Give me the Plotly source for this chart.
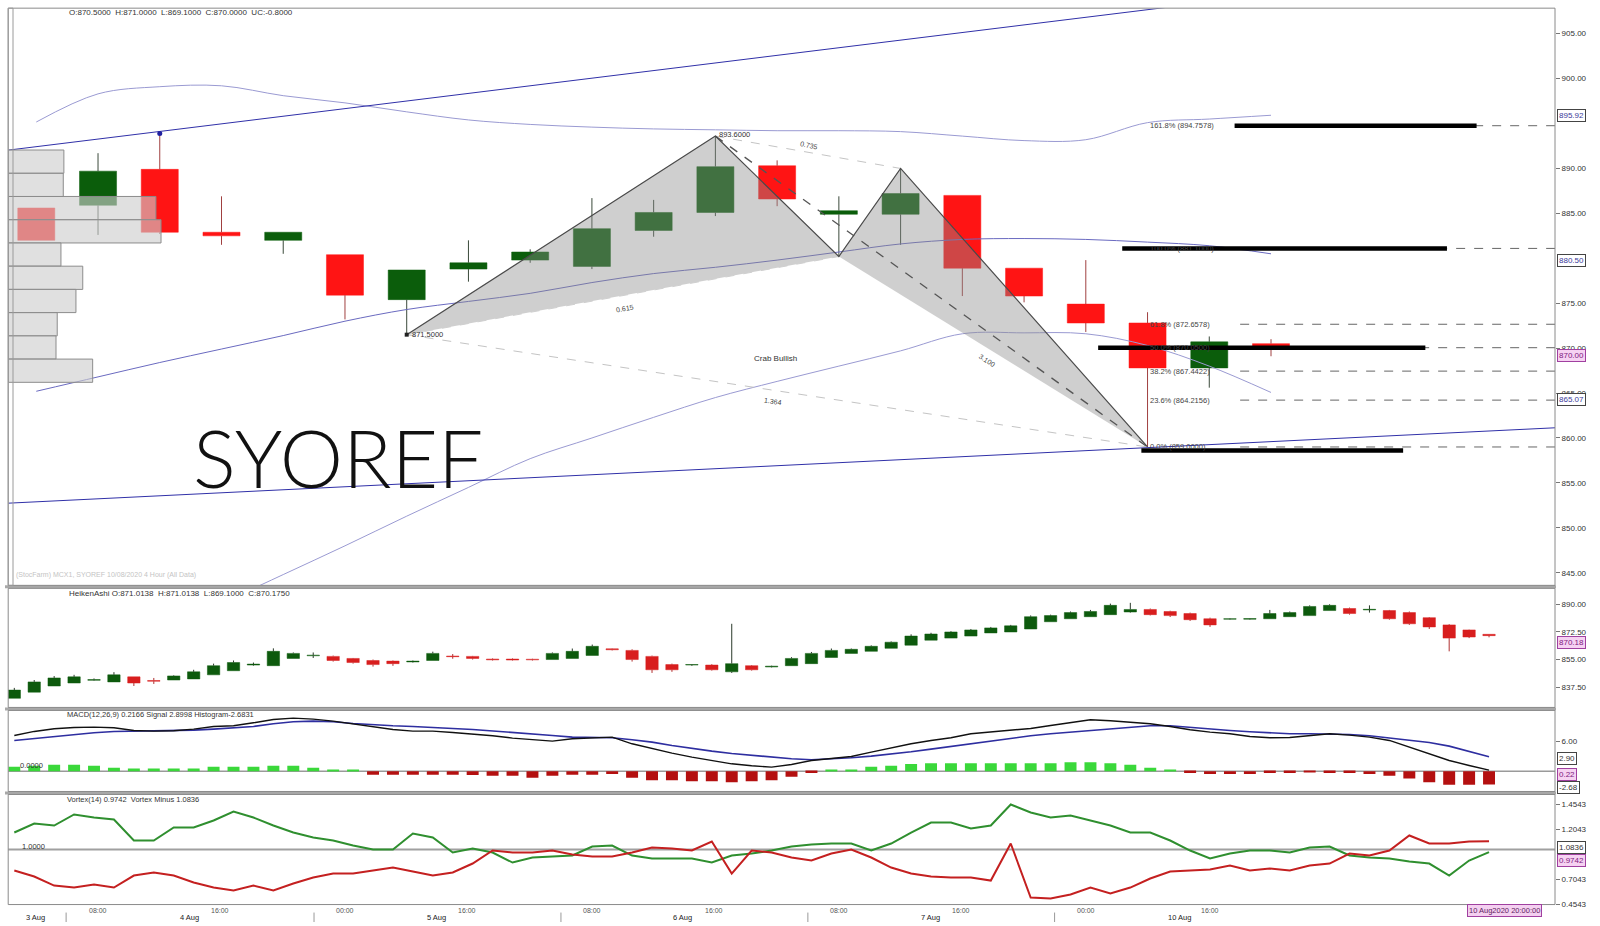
import plotly.graph_objects as go

W, H = 1600, 926
def px(x): return x / W
def py(y):
    # vertical pixel -> paper, with a small stretch correction measured against the reference
    yy = 8.2 + (y - 8.2) * 1.005
    return 1 - yy / H

# ---------------- main chart (price candles) ----------------
c_idx = list(range(-1, 20))
c_open  = [885.6, 885.9, 889.9, 882.9, 882.0, 880.4, 875.4, 878.8, 879.8, 879.1, 883.1,
           885.1, 890.3, 884.9, 884.9, 887.0, 878.9, 874.9, 872.8, 867.8, 870.5]
c_high  = [885.6, 891.7, 893.9, 886.9, 882.9, 880.4, 878.7, 882.0, 881.0, 886.7, 886.5,
           893.6, 890.9, 886.9, 890.0, 887.0, 878.9, 879.8, 874.0, 871.3, 871.0]
c_low   = [882.0, 882.6, 882.7, 881.5, 880.5, 873.2, 871.5, 877.4, 879.5, 878.8, 882.4,
           884.7, 885.8, 880.2, 881.5, 875.8, 875.1, 871.8, 859.0, 865.6, 869.1]
c_close = [882.0, 889.7, 882.9, 882.5, 882.9, 875.9, 878.7, 879.5, 880.7, 883.3, 885.1,
           890.2, 886.6, 885.3, 887.2, 878.9, 875.8, 872.8, 867.8, 870.7, 870.0]

# bands (one value per candle)
band_upper = [895.17, 898.3, 899.1, 899.2, 898.1, 897.3, 896.3, 895.4, 894.9, 894.6, 894.4,
              894.3, 894.2, 894.2, 894.1, 893.6, 893.1, 893.2, 895.1, 895.5, 895.92]
band_mid   = [865.2, 866.8, 868.4, 869.9, 871.4, 873.0, 874.3, 875.2, 876.1, 877.3, 878.3,
              879.0, 879.8, 880.7, 881.6, 882.1, 882.2, 882.1, 881.8, 881.4, 880.50]
band_low_idx = list(range(2, 20))
band_low   = [841.6, 844.8, 848.0, 851.3, 854.5, 857.7, 860.0, 862.3, 864.5, 866.3,
              868.0, 869.7, 871.6, 871.7, 871.6, 870.3, 868.0, 865.07]

# trend channel lines
trend_x = [-1.5, 24.0]
trend_upper = [892.0, 913.6]
trend_lower = [852.73, 861.27]

# volume profile
vp_price = [890.76, 888.17, 885.59, 883.0, 880.42, 877.83, 875.25, 872.66, 870.08, 867.49]
vp_vol   = [3.6, 3.56, 9.55, 9.88, 3.41, 4.82, 4.38, 3.17, 3.09, 5.46]

# harmonic pattern points X A B C D
pat_names = ["X", "A", "B", "C", "D"]
pat_x = [5, 10, 12, 13, 17]
pat_y = [871.5, 893.6, 880.2, 890.0, 859.0]

# fibonacci levels
fib_pct = ["161.8%", "100.0%", "61.8%", "50.0%", "38.2%", "23.6%", "0.0%"]
fib_val = [894.7578, 881.1000, 872.6578, 870.0500, 867.4422, 864.2156, 859.0000]

# hand drawn thick black levels
mark_price = [894.7578, 881.1, 870.05, 858.6]
mark_x0 = [18.41, 16.59, 16.2, 16.9]
mark_x1 = [22.33, 21.85, 21.5, 21.14]

# ---------------- Heiken Ashi ----------------
ha_open  = [830.4, 834.3, 838.2, 840.1, 841.8, 840.8, 844.0, 841.7, 842.0, 842.7,
            845.3, 847.9, 851.5, 851.1, 855.7, 857.4, 857.0, 855.7, 854.4, 854.0,
            853.5, 854.4, 857.2, 857.0, 855.3, 855.3, 855.2, 855.0, 855.7, 857.6,
            861.8, 860.8, 857.0, 851.8, 851.5, 851.5, 847.2, 851.1, 850.3, 851.1,
            852.4, 856.3, 858.9, 860.2, 862.1, 864.1, 867.3, 868.6, 869.9, 871.9,
            872.5, 874.4, 879.0, 880.9, 882.2, 883.5, 885.2, 886.8, 885.5, 884.2,
            880.9, 880.6, 880.6, 880.9, 882.2, 882.9, 886.1, 887.4, 886.5, 886.1,
            884.8, 881.6, 877.0, 873.8, 871.0138]
ha_high  = [837.0, 842.0, 844.5, 845.3, 843.0, 847.0, 844.0, 843.3, 845.0, 848.5,
            852.4, 854.4, 853.1, 862.1, 859.5, 859.5, 857.5, 856.0, 855.0, 854.4,
            854.4, 860.0, 858.5, 857.3, 855.7, 855.7, 855.5, 859.5, 862.0, 864.5,
            862.0, 861.5, 857.5, 852.4, 852.0, 852.0, 877.7, 851.5, 851.1, 856.5,
            859.8, 862.0, 862.0, 864.0, 866.5, 871.0, 872.0, 873.0, 874.4, 875.7,
            877.0, 883.0, 883.5, 885.5, 886.5, 890.5, 891.0, 887.4, 886.0, 884.8,
            881.6, 881.2, 881.2, 886.5, 885.5, 889.4, 890.1, 888.0, 889.4, 886.5,
            885.5, 882.0, 877.5, 874.0, 871.0138]
ha_low   = [830.4, 834.3, 838.2, 840.1, 841.5, 840.8, 838.2, 839.5, 842.0, 842.7,
            845.3, 847.9, 851.1, 851.1, 855.7, 856.0, 853.7, 852.4, 850.5, 851.0,
            853.1, 854.4, 855.5, 855.0, 854.4, 854.4, 854.4, 855.0, 855.7, 857.6,
            860.8, 853.7, 846.5, 847.2, 851.0, 848.0, 846.5, 848.0, 850.0, 851.1,
            852.4, 856.3, 858.9, 860.2, 862.1, 864.1, 867.3, 868.6, 869.9, 871.9,
            872.5, 874.4, 879.0, 880.9, 882.2, 883.5, 884.8, 883.0, 882.0, 879.5,
            875.7, 880.3, 880.3, 880.9, 882.2, 882.9, 886.1, 883.5, 884.8, 880.3,
            877.0, 874.4, 860.2, 868.6, 869.1]
ha_close = [835.6, 840.8, 843.3, 844.0, 842.3, 845.3, 840.1, 841.2, 844.6, 847.2,
            851.1, 853.1, 852.1, 860.2, 858.9, 857.8, 854.4, 853.1, 851.8, 852.4,
            854.0, 858.9, 856.8, 855.7, 854.8, 854.7, 854.8, 858.9, 860.2, 863.4,
            861.2, 855.0, 848.5, 848.5, 851.8, 848.5, 852.4, 848.5, 850.8, 855.7,
            858.9, 860.8, 861.5, 863.4, 866.0, 869.9, 871.2, 872.5, 873.8, 875.1,
            876.4, 882.2, 882.9, 884.8, 885.5, 889.4, 886.8, 883.5, 882.9, 880.3,
            877.0, 880.9, 881.0, 884.2, 884.8, 888.7, 889.4, 884.2, 886.9, 880.9,
            877.7, 875.7, 868.6, 869.3, 870.175]

# ---------------- MACD ----------------
macd_line = [7.14, 7.94, 8.47, 8.74, 8.81, 8.67, 8.14, 8.01, 8.07, 8.41,
             8.94, 9.07, 9.67, 10.34, 10.61, 10.41, 10.01, 9.47, 8.81, 8.34,
             8.01, 8.01, 7.74, 7.47, 7.07, 6.61, 6.27, 6.01, 6.47, 6.67,
             6.81, 5.47, 4.47, 3.61, 2.81, 2.14, 1.47, 1.07, 0.81, 1.34,
             2.14, 2.54, 2.94, 3.81, 4.67, 5.47, 6.14, 6.67, 7.47, 7.81,
             8.27, 8.54, 9.14, 9.74, 10.27, 10.07, 9.74, 9.47, 8.94, 8.27,
             7.81, 7.47, 6.94, 6.67, 6.74, 7.07, 7.47, 7.21, 6.81, 6.14,
             4.81, 3.61, 2.14, 1.14, 0.2166]
macd_signal = [6.14, 6.54, 6.94, 7.34, 7.67, 7.94, 8.01, 8.01, 8.07, 8.21,
               8.41, 8.67, 8.94, 9.47, 9.87, 10.01, 9.87, 9.54, 9.27, 9.07,
               8.94, 8.81, 8.54, 8.34, 8.07, 7.74, 7.47, 7.14, 6.81, 6.74,
               6.67, 6.27, 5.81, 5.14, 4.54, 4.01, 3.54, 3.14, 2.74, 2.47,
               2.27, 2.41, 2.67, 3.01, 3.41, 3.87, 4.41, 4.94, 5.47, 6.01,
               6.67, 7.07, 7.47, 7.81, 8.14, 8.47, 8.81, 9.07, 9.07, 8.81,
               8.41, 8.14, 7.87, 7.61, 7.47, 7.47, 7.47, 7.34, 7.07, 6.67,
               6.27, 5.74, 5.0, 4.0, 2.8998]
macd_hist = [0.9, 1.1, 1.3, 1.3, 1.1, 0.7, 0.55, 0.55, 0.55, 0.55,
             0.9, 0.9, 0.9, 1.1, 1.1, 0.7, 0.35, 0.2, -0.7, -0.7,
             -0.7, -0.7, -0.7, -0.75, -0.9, -0.9, -1.3, -0.9, -0.7, -0.7,
             -0.55, -1.3, -1.8, -1.8, -2.0, -2.0, -2.2, -2.0, -1.8, -1.1,
             -0.35, 0.2, 0.35, 0.9, 1.1, 1.45, 1.6, 1.6, 1.6, 1.6,
             1.6, 1.6, 1.6, 1.8, 1.8, 1.6, 1.3, 0.7, 0.35, -0.35,
             -0.55, -0.55, -0.55, -0.35, -0.35, -0.2, -0.35, -0.35, -0.55, -0.9,
             -1.45, -2.2, -2.7, -2.7, -2.6831]

# ---------------- Vortex ----------------
vi_plus = [1.17, 1.26, 1.24, 1.35, 1.32, 1.30, 1.09, 1.09, 1.22, 1.22,
           1.29, 1.38, 1.32, 1.24, 1.17, 1.12, 1.09, 1.04, 1.00, 1.00,
           1.16, 1.12, 0.97, 1.01, 0.97, 0.87, 0.92, 0.93, 0.94, 1.03,
           1.04, 0.94, 0.91, 0.91, 0.91, 0.87, 0.94, 0.96, 0.99, 1.03,
           1.05, 1.06, 1.06, 0.99, 1.06, 1.17, 1.27, 1.27, 1.21, 1.24,
           1.45, 1.37, 1.32, 1.34, 1.29, 1.24, 1.17, 1.17, 1.09, 0.99,
           0.91, 0.96, 0.99, 0.99, 0.97, 1.02, 1.03, 0.94, 0.92, 0.91,
           0.88, 0.86, 0.74, 0.89, 0.9742]
vi_minus = [0.79, 0.73, 0.64, 0.62, 0.65, 0.62, 0.74, 0.77, 0.74, 0.67,
            0.62, 0.59, 0.64, 0.59, 0.66, 0.72, 0.76, 0.76, 0.79, 0.82,
            0.78, 0.74, 0.77, 0.86, 0.99, 0.97, 0.97, 0.99, 0.95, 0.93,
            0.93, 0.97, 1.02, 1.01, 0.99, 1.08, 0.76, 0.99, 0.97, 0.92,
            0.89, 0.96, 1.00, 0.92, 0.82, 0.76, 0.73, 0.72, 0.72, 0.69,
            1.06, 0.52, 0.51, 0.55, 0.62, 0.56, 0.62, 0.71, 0.78, 0.79,
            0.80, 0.84, 0.79, 0.81, 0.79, 0.84, 0.86, 0.96, 0.94, 0.99,
            1.14, 1.06, 1.06, 1.08, 1.0836]

# ---------------- time axis ----------------
time_pos = [4.2, 10.3, 16.6, 22.7, 29.0, 35.1, 41.4, 47.5, 53.8, 60.0]
time_lbl = ["08:00", "16:00", "00:00", "16:00", "08:00", "16:00", "08:00", "16:00", "00:00", "16:00"]
day_pos = [1.07, 8.8, 21.2, 33.55, 45.98, 58.47]
day_lbl = ["3 Aug", "4 Aug", "5 Aug", "6 Aug", "7 Aug", "10 Aug"]
day_sep = [2.6, 15.04, 27.43, 39.82, 52.2]

bars_x = list(range(len(ha_open)))

GREEN = "#0b5d0b"
RED = "#ff1414"
FONT = "Liberation Sans"

fig = go.Figure()

def candle_traces(xs, o, h, l, c, xa, ya, width, green, red, wick_g, wick_r, minh):
    base = [min(a, b) for a, b in zip(o, c)]
    hgt = [max(abs(b - a), minh) for a, b in zip(o, c)]
    cols = [green if b >= a else red for a, b in zip(o, c)]
    fig.add_trace(go.Bar(x=xs, y=hgt, base=base, width=width, marker=dict(color=cols, line=dict(color=cols, width=0.5)),
                         xaxis=xa, yaxis=ya, hoverinfo="skip", showlegend=False))
    for col, wc, up in ((green, wick_g, True), (red, wick_r, False)):
        wx, wy = [], []
        for x, a, hh, ll, b in zip(xs, o, h, l, c):
            if (b >= a) != up:
                continue
            top, bot = max(a, b), min(a, b)
            if hh > top:
                wx += [x, x, None]; wy += [hh, top, None]
            if ll < bot:
                wx += [x, x, None]; wy += [bot, ll, None]
        fig.add_trace(go.Scatter(x=wx, y=wy, mode="lines", line=dict(color=wc, width=1),
                                 xaxis=xa, yaxis=ya, hoverinfo="skip", showlegend=False))

# main candles
candle_traces(c_idx, c_open, c_high, c_low, c_close, "x", "y", 0.6, GREEN, RED, "#3a4a3a", "#a04040", 0.15)

# bands
fig.add_trace(go.Scatter(x=c_idx, y=band_upper, mode="lines", line=dict(color="#9a9ad2", width=1, shape="spline"),
                         xaxis="x", yaxis="y", showlegend=False, hoverinfo="skip"))
fig.add_trace(go.Scatter(x=c_idx, y=band_mid, mode="lines", line=dict(color="#6a6ac0", width=1, shape="spline"),
                         xaxis="x", yaxis="y", showlegend=False, hoverinfo="skip"))
fig.add_trace(go.Scatter(x=band_low_idx, y=band_low, mode="lines", line=dict(color="#9a9ad2", width=1, shape="spline"),
                         xaxis="x", yaxis="y", showlegend=False, hoverinfo="skip"))
# trend channel
for ty in (trend_upper, trend_lower):
    fig.add_trace(go.Scatter(x=trend_x, y=ty, mode="lines", line=dict(color="#3030a8", width=1),
                             xaxis="x", yaxis="y", showlegend=False, hoverinfo="skip"))
fig.add_trace(go.Scatter(x=[c_idx[2]], y=[c_high[2]], mode="markers", marker=dict(color="#2020a0", size=5),
                         xaxis="x", yaxis="y", showlegend=False, hoverinfo="skip"))

# pattern fills
X, A, B, C, D = range(5)
fill = "rgba(140,140,140,0.42)"
fig.add_trace(go.Scatter(x=[pat_x[X], pat_x[A], pat_x[B], pat_x[X]], y=[pat_y[X], pat_y[A], pat_y[B], pat_y[X]],
                         mode="lines", fill="toself", fillcolor=fill, line=dict(width=0),
                         xaxis="x", yaxis="y", showlegend=False, hoverinfo="skip"))
fig.add_trace(go.Scatter(x=[pat_x[B], pat_x[C], pat_x[D], pat_x[B]], y=[pat_y[B], pat_y[C], pat_y[D], pat_y[B]],
                         mode="lines", fill="toself", fillcolor=fill, line=dict(width=0),
                         xaxis="x", yaxis="y", showlegend=False, hoverinfo="skip"))
# dashed helper lines
for i0, i1, col in ((X, D, "#c4c4c4"), (A, C, "#c4c4c4"), (X, B, "#cfcfcf")):
    fig.add_trace(go.Scatter(x=[pat_x[i0], pat_x[i1]], y=[pat_y[i0], pat_y[i1]], mode="lines",
                             line=dict(color=col, width=1, dash="dash"),
                             xaxis="x", yaxis="y", showlegend=False, hoverinfo="skip"))
fig.add_trace(go.Scatter(x=[pat_x[A], pat_x[D]], y=[pat_y[A], pat_y[D]], mode="lines",
                         line=dict(color="#555555", width=1.3, dash="dash"),
                         xaxis="x", yaxis="y", showlegend=False, hoverinfo="skip"))
# pattern legs
fig.add_trace(go.Scatter(x=pat_x, y=pat_y, mode="lines", line=dict(color="#4a4a4a", width=1.2),
                         xaxis="x", yaxis="y", showlegend=False, hoverinfo="skip"))
fig.add_trace(go.Scatter(x=[pat_x[X]], y=[pat_y[X]], mode="markers", marker=dict(color="#222", size=4, symbol="square"),
                         xaxis="x", yaxis="y", showlegend=False, hoverinfo="skip"))

# fib dashed lines
fx, fy = [], []
for v in fib_val:
    fx += [18.5, 23.7, None]; fy += [v, v, None]
fig.add_trace(go.Scatter(x=fx, y=fy, mode="lines", line=dict(color="#666", width=1, dash="dash"),
                         xaxis="x", yaxis="y", showlegend=False, hoverinfo="skip"))
# thick marks
mx, my = [], []
for v, a, b in zip(mark_price, mark_x0, mark_x1):
    mx += [a, b, None]; my += [v, v, None]
fig.add_trace(go.Scatter(x=mx, y=my, mode="lines", line=dict(color="#000", width=4.5),
                         xaxis="x", yaxis="y", showlegend=False, hoverinfo="skip"))

# volume profile (overlay axis, drawn above candles)
fig.add_trace(go.Bar(x=vp_vol, y=vp_price, orientation="h", width=2.585, base=0,
                     marker=dict(color="rgba(205,205,205,0.62)", line=dict(color="#8c8c8c", width=1)),
                     xaxis="x5", yaxis="y", showlegend=False, hoverinfo="skip"))

# Heiken Ashi
candle_traces(bars_x, ha_open, ha_high, ha_low, ha_close, "x2", "y2", 0.62, "#0d5a0d", "#d81e1e", "#2a3a2a", "#b03030", 0.35)

# MACD
hcol = ["#3ad83a" if v >= 0 else "#b41010" for v in macd_hist]
fig.add_trace(go.Bar(x=bars_x, y=macd_hist, width=0.6, marker=dict(color=hcol, line=dict(width=0)),
                     xaxis="x3", yaxis="y3", showlegend=False, hoverinfo="skip"))
fig.add_trace(go.Scatter(x=bars_x, y=macd_signal, mode="lines", line=dict(color="#2e2ea0", width=1.6),
                         xaxis="x3", yaxis="y3", showlegend=False, hoverinfo="skip"))
fig.add_trace(go.Scatter(x=bars_x, y=macd_line, mode="lines", line=dict(color="#111", width=1.4),
                         xaxis="x3", yaxis="y3", showlegend=False, hoverinfo="skip"))

# Vortex
fig.add_trace(go.Scatter(x=bars_x, y=vi_plus, mode="lines", line=dict(color="#2f8f2f", width=2),
                         xaxis="x4", yaxis="y4", showlegend=False, hoverinfo="skip"))
fig.add_trace(go.Scatter(x=bars_x, y=vi_minus, mode="lines", line=dict(color="#c42020", width=2),
                         xaxis="x4", yaxis="y4", showlegend=False, hoverinfo="skip"))

# ---------------- layout ----------------
XD = [px(8.2), px(1555)]
def yax(dom, rng, tv, fmt):
    return dict(domain=dom, range=rng, tickvals=tv, tickformat=fmt, side="right", ticks="outside",
                ticklen=4, tickcolor="#777", tickfont=dict(size=8, color="#333", family=FONT),
                showgrid=False, zeroline=False, showline=False, fixedrange=True)

main_dom = [py(585), py(8.2)]
ha_dom = [py(707), py(588)]
macd_dom = [py(791), py(710)]
vx_dom = [py(904), py(794)]
lower_rng = [-0.306, 77.31]

main_ticks = [845, 850, 855, 860, 865, 870, 875, 885, 890, 900, 905]

fig.update_layout(
    width=W, height=H, margin=dict(l=0, r=0, t=0, b=0),
    paper_bgcolor="white", plot_bgcolor="white", barmode="overlay", showlegend=False,
    xaxis=dict(domain=XD, range=[-1.455, 23.6], anchor="y", visible=False, fixedrange=True),
    xaxis5=dict(overlaying="x", anchor="y", range=[0, 100], visible=False, fixedrange=True),
    xaxis2=dict(domain=XD, range=lower_rng, anchor="y2", visible=False),
    xaxis3=dict(domain=XD, range=lower_rng, anchor="y3", visible=False),
    xaxis4=dict(domain=XD, range=lower_rng, anchor="y4", visible=False),
    yaxis=yax(main_dom, [843.6, 907.84], main_ticks, ".2f"),
    yaxis2=yax(ha_dom, [824.6, 900.2], [837.5, 855, 872.5, 890], ".2f"),
    yaxis3=yax(macd_dom, [-4.06, 12.14], [6], ".2f"),
    yaxis4=yax(vx_dom, [0.45, 1.55], [0.4543, 0.7043, 1.2043, 1.4543], ".4f"),
)
fig.update_layout(yaxis2_anchor="x2", yaxis3_anchor="x3", yaxis4_anchor="x4", yaxis_anchor="x")

shapes = []
for top, bot in ((585, 588), (707, 710), (791, 794)):
    shapes.append(dict(type="rect", xref="paper", yref="paper", x0=px(5), x1=px(1556), y0=py(bot), y1=py(top),
                       fillcolor="#a8a8a8", line=dict(width=0), layer="above"))
for top, bot in ((8.2, 585), (588, 707), (710, 791), (794, 904)):
    shapes.append(dict(type="rect", xref="paper", yref="paper", x0=px(8.2), x1=px(1555), y0=py(bot), y1=py(top),
                       line=dict(color="#8a8a8a", width=1), layer="above"))
shapes.append(dict(type="rect", xref="paper", yref="paper", x0=px(8.2), x1=px(13), y0=py(585), y1=py(8.2),
                   line=dict(color="#9a9a9a", width=1), layer="above"))
shapes.append(dict(type="line", xref="paper", yref="y3", x0=XD[0], x1=XD[1], y0=0, y1=0,
                   line=dict(color="#9a9a9a", width=1.5), layer="below"))
shapes.append(dict(type="line", xref="paper", yref="y4", x0=XD[0], x1=XD[1], y0=1, y1=1,
                   line=dict(color="#a0a0a0", width=2), layer="below"))
for s in day_sep:
    shapes.append(dict(type="line", xref="x4", yref="paper", x0=s, x1=s, y0=0, y1=py(912),
                       line=dict(color="#999", width=1)))
fig.update_layout(shapes=shapes)

ann = []
def txt(x, y, t, size=8, color="#333", xref="paper", yref="paper", xa="left", ya="middle", angle=0, **kw):
    ann.append(dict(x=x, y=y, text=t, xref=xref, yref=yref, xanchor=xa, yanchor=ya, showarrow=False,
                    textangle=angle, font=dict(size=size, color=color, family=FONT), **kw))

txt(px(67), py(12.5), "O:870.5000  H:871.0000  L:869.1000  C:870.0000  UC:-0.8000", 8)
txt(px(67), py(593), "HeikenAshi O:871.0138  H:871.0138  L:869.1000  C:870.1750", 8)
txt(px(65), py(714), "MACD(12,26,9) 0.2166 Signal 2.8998 Histogram-2.6831", 7.5)
txt(px(65), py(799), "Vortex(14) 0.9742  Vortex Minus 1.0836", 7.5)
txt(px(18), py(765), "0.0000", 7.5)
txt(px(20), py(846), "1.0000", 7.5)
txt(px(14), py(575), "(StocFarm) MCX1, SYOREF 10/08/2020 4 Hour (All Data)", 7, "#c4c4c4")

ann.append(dict(x=px(338), y=py(457), xref="paper", yref="paper", text="SYOREF", showarrow=False,
                xanchor="center", yanchor="middle", font=dict(size=80, color="#111", family="Lato", weight=300)))

txt(pat_x[X] + 0.05, pat_y[X], "871.5000", 7.5, "#333", "x", "y")
txt(pat_x[A] + 0.02, pat_y[A] + 0.2, "893.6000", 7.5, "#333", "x", "y")
txt(10.97, 868.9, "Crab Bullish", 8, "#333", "x", "y", xa="center")
txt(8.53, 874.45, "0.615", 7, "#444", "x", "y", xa="center", angle=-10)
txt(11.52, 892.5, "0.735", 7, "#444", "x", "y", xa="center", angle=12)
txt(14.4, 868.6, "3.100", 7, "#444", "x", "y", xa="center", angle=33)
txt(10.94, 864.1, "1.364", 7, "#444", "x", "y", xa="center", angle=9)
for p, v in zip(fib_pct, fib_val):
    txt(17.0, v, f"{p} ({v:.4f})", 7.5, "#444", "x", "y")

def box(y, t, yref, pink=False, color="#3a3a9a"):
    ann.append(dict(x=px(1557), y=y, xref="paper", yref=yref, text=t, showarrow=False, xanchor="left",
                    yanchor="middle", bgcolor="#f6d2f2" if pink else "white",
                    bordercolor="#a040a0" if pink else "#444", borderwidth=1, borderpad=1,
                    font=dict(size=8, color="#802080" if pink else color, family=FONT)))
box(band_upper[-1], "895.92", "y")
box(879.8, "880.50", "y")
box(869.2, "870.00", "y", pink=True)
box(864.3, "865.07", "y")
box(865.9, "870.18", "y2", pink=True)
box(2.5, "2.90", "y3", color="#333")
box(-0.75, "0.22", "y3", pink=True)
box(-3.25, "-2.68", "y3", color="#333")
box(1.02, "1.0836", "y4", color="#333")
box(0.895, "0.9742", "y4", pink=True)

for p, t in zip(time_pos, time_lbl):
    txt(p, py(910), t, 7, "#555", "x4", "paper", xa="center")
for p, t in zip(day_pos, day_lbl):
    txt(p, 1 - 921.5 / H, t, 7.5, "#222", "x4", "paper", xa="center")
ann.append(dict(x=px(1504), y=py(910), xref="paper", yref="paper", text="10 Aug2020 20:00:00", showarrow=False,
                xanchor="center", yanchor="middle", bgcolor="#f4d0f0", bordercolor="#a040a0", borderwidth=1,
                borderpad=1, font=dict(size=7.5, color="#602060", family=FONT)))

fig.update_layout(annotations=ann)
fig.write_html("out.html", config={"displayModeBar": False},
               post_script="document.body.style.margin='0px';document.body.style.overflow='hidden';")
